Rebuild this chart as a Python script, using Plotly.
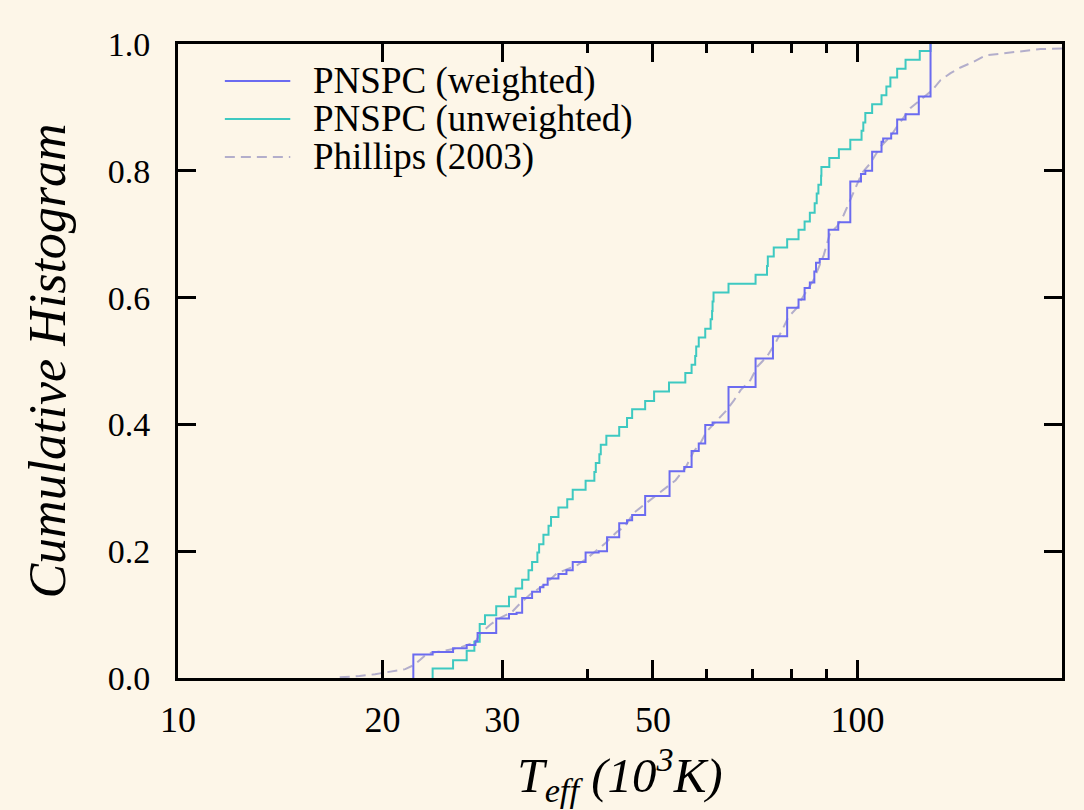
import plotly.graph_objects as go

# Effective temperature (10^3 K) and cumulative fraction for each sample
teff_weighted = [22.2, 22.2, 23.7, 25.4, 26.6, 27.4, 27.6, 29.4, 30.7, 31.5, 32.1, 33.2,
                 34.1, 34.5, 35.0, 36.3, 37.3, 38.1, 39.8, 41.6, 42.8, 44.6, 45.8, 46.6,
                 48.7, 52.9, 55.6, 57.0, 58.4, 59.7, 61.2, 64.6, 70.8, 75.1, 78.8, 81.9,
                 83.6, 85.1, 86.4, 86.9, 88.0, 90.7, 93.7, 97.6, 101.2, 102.7, 105.1,
                 108.5, 109.1, 112.1, 114.4, 117.7, 123.1, 128.1]
cum_weighted = [0.0, 0.037, 0.041, 0.047, 0.052, 0.058, 0.071, 0.094, 0.101, 0.103, 0.126,
                0.136, 0.143, 0.147, 0.157, 0.164, 0.170, 0.183, 0.198, 0.200, 0.222,
                0.244, 0.249, 0.257, 0.287, 0.326, 0.333, 0.358, 0.370, 0.399, 0.403,
                0.459, 0.504, 0.539, 0.584, 0.597, 0.615, 0.624, 0.641, 0.655, 0.661,
                0.707, 0.719, 0.783, 0.795, 0.800, 0.830, 0.846, 0.851, 0.859, 0.881,
                0.889, 0.917, 1.000]

teff_unweighted = [23.7, 23.7, 25.4, 26.6, 27.3, 27.8, 28.3, 29.4, 30.7, 31.4, 32.1, 32.8,
                   33.2, 33.8, 34.0, 34.5, 35.1, 35.4, 36.3, 37.4, 38.1, 39.8, 41.0, 41.2,
                   41.7, 41.9, 42.7, 44.6, 45.8, 46.6, 48.7, 50.2, 52.8, 55.8, 57.0, 57.7,
                   57.9, 58.4, 59.7, 60.8, 61.1, 61.2, 61.4, 64.6, 70.8, 73.6, 73.8, 75.3,
                   78.8, 81.9, 83.6, 85.1, 86.5, 87.1, 87.6, 88.4, 88.5, 90.9, 93.9, 97.6,
                   101.4, 102.0, 102.7, 105.1, 108.5, 110.3, 111.8, 114.4, 117.7, 123.5,
                   128.1]
cum_unweighted = [0.0, 0.015, 0.028, 0.043, 0.057, 0.085, 0.099, 0.113, 0.128, 0.141, 0.155,
                  0.170, 0.183, 0.198, 0.211, 0.226, 0.240, 0.254, 0.269, 0.282, 0.297,
                  0.311, 0.325, 0.339, 0.353, 0.368, 0.382, 0.396, 0.410, 0.424, 0.437,
                  0.452, 0.466, 0.481, 0.494, 0.508, 0.523, 0.537, 0.551, 0.566, 0.579,
                  0.594, 0.608, 0.622, 0.636, 0.650, 0.665, 0.679, 0.692, 0.707, 0.720,
                  0.734, 0.749, 0.764, 0.778, 0.792, 0.806, 0.820, 0.834, 0.849, 0.863,
                  0.876, 0.891, 0.905, 0.919, 0.933, 0.947, 0.961, 0.975, 0.989, 1.000]

teff_phillips = [17.3, 18.5, 19.5, 20.5, 21.6, 22.3, 22.7, 23.3, 24.7, 26.0, 27.4, 27.9,
                 28.8, 29.8, 31.0, 31.9, 33.0, 34.7, 36.1, 38.7, 40.0, 42.5, 44.3, 45.5,
                 46.8, 48.5, 50.1, 51.9, 54.0, 55.8, 57.4, 58.7, 59.9, 62.2, 63.9, 65.8,
                 67.3, 69.6, 71.2, 73.6, 75.7, 77.5, 79.2, 81.5, 82.9, 86.2, 89.2, 91.2,
                 93.3, 95.4, 97.6, 99.3, 101.6, 104.5, 108.1, 111.8, 114.4, 119.7, 123.8,
                 128.8, 132.5, 137.1, 141.8, 148.2, 154.4, 162.4, 173.8, 186.0, 200.0]
cum_phillips = [0.001, 0.003, 0.006, 0.010, 0.014, 0.021, 0.028, 0.039, 0.043, 0.048, 0.057,
                0.071, 0.084, 0.095, 0.104, 0.118, 0.132, 0.148, 0.165, 0.178, 0.189,
                0.212, 0.231, 0.239, 0.260, 0.273, 0.286, 0.299, 0.312, 0.331, 0.357,
                0.370, 0.388, 0.407, 0.420, 0.438, 0.454, 0.470, 0.491, 0.507, 0.528,
                0.549, 0.570, 0.584, 0.599, 0.628, 0.667, 0.703, 0.712, 0.730, 0.754,
                0.775, 0.797, 0.812, 0.838, 0.854, 0.870, 0.899, 0.912, 0.927, 0.943,
                0.954, 0.963, 0.972, 0.982, 0.985, 0.988, 0.992, 0.993]

x_tick_vals = [10, 20, 30, 50, 100]
x_tick_text = ["10", "20", "30", "50", "100"]
x_minor_vals = [40, 60, 70, 80, 90]
y_tick_vals = [0.0, 0.2, 0.4, 0.6, 0.8, 1.0]

series_names = ["PNSPC (weighted)", "PNSPC (unweighted)", "Phillips (2003)"]
series_colors = ["#6b6bf0", "#3ec9c1", "#b3aecb"]
series_dash = ["solid", "solid", "10px,6px"]

BG = "#fdf6e8"
SERIF = "Liberation Serif, Times New Roman, serif"

fig = go.Figure()
fig.add_trace(go.Scatter(x=teff_phillips, y=cum_phillips, mode="lines",
                         line=dict(color=series_colors[2], width=2, dash=series_dash[2]),
                         name=series_names[2], showlegend=False))
fig.add_trace(go.Scatter(x=teff_unweighted, y=cum_unweighted, mode="lines",
                         line=dict(color=series_colors[1], width=2, shape="hv"),
                         name=series_names[1], showlegend=False))
fig.add_trace(go.Scatter(x=teff_weighted, y=cum_weighted, mode="lines",
                         line=dict(color=series_colors[0], width=2, shape="hv"),
                         name=series_names[0], showlegend=False))

# Legend drawn inside the frame: short line samples with labels
legend_rows = [0.9416, 0.8817, 0.8218]
for name, color, dash, yr in zip(series_names, series_colors, series_dash, legend_rows):
    fig.add_shape(type="line", xref="paper", yref="paper", x0=0.053, x1=0.127, y0=yr, y1=yr,
                  line=dict(color=color, width=2, dash=dash))
    fig.add_annotation(xref="paper", yref="paper", x=0.1505, y=yr, xanchor="left",
                       yanchor="middle", text=name, showarrow=False,
                       font=dict(family=SERIF, size=37, color="black"))

fig.update_xaxes(type="log", range=[1, 2.30103],
                 tickvals=x_tick_vals, ticktext=x_tick_text,
                 ticks="inside", ticklen=18, tickwidth=3, tickcolor="black",
                 minor=dict(tickvals=x_minor_vals, ticks="inside", ticklen=9,
                            tickwidth=3, tickcolor="black"),
                 showline=True, linewidth=3, linecolor="black", mirror="allticks",
                 showgrid=False, zeroline=False, ticklabelstandoff=8,
                 tickfont=dict(family=SERIF, size=36, color="black"),
                 title=dict(text="<i>T<sub>eff</sub> (10<sup>3</sup>K)</i>",
                            font=dict(family=SERIF, size=49, color="black"), standoff=5))
fig.update_yaxes(range=[0, 1], tickvals=y_tick_vals, tickformat=".1f",
                 ticks="inside", ticklen=18, tickwidth=3, tickcolor="black",
                 showline=True, linewidth=3, linecolor="black", mirror="allticks",
                 showgrid=False, zeroline=False, ticklabelstandoff=18,
                 tickfont=dict(family=SERIF, size=34, color="black"),
                 title=dict(text="<i>Cumulative Histogram</i>",
                            font=dict(family=SERIF, size=52, color="black"), standoff=26))

fig.update_layout(width=1084, height=810, paper_bgcolor=BG, plot_bgcolor=BG,
                  margin=dict(l=178, r=22, t=44, b=132), showlegend=False)

fig.write_html("out.html")
